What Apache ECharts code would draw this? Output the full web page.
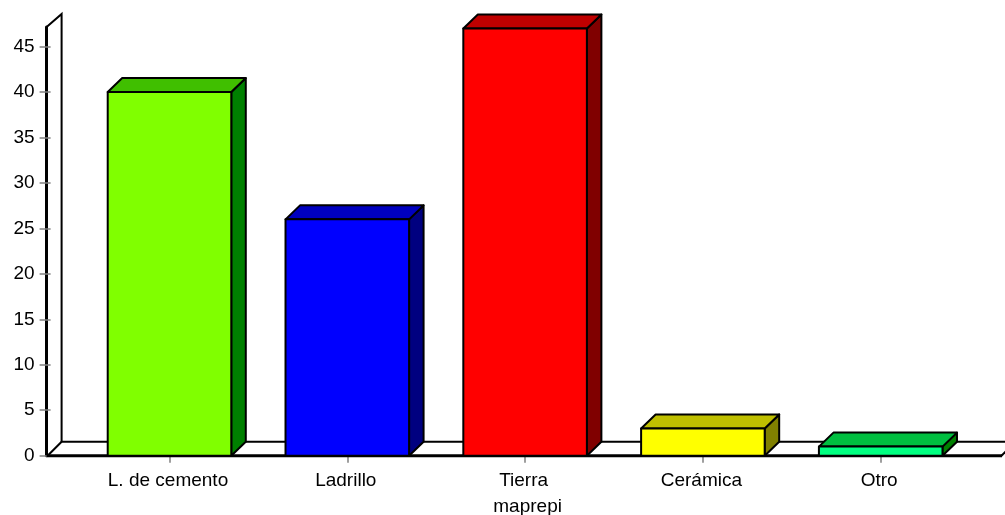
<!DOCTYPE html>
<html><head><meta charset="utf-8">
<script src="https://cdn.jsdelivr.net/npm/echarts@6/dist/echarts.min.js"></script>
<style>html,body{margin:0;padding:0;background:#fff}#c{width:1005px;height:515px}</style>
</head><body><div id="c"></div>
<script>
var categories = ['L. de cemento','Ladrillo','Tierra','Cerámica','Otro'];
var values = [40,26,47,3,1];
var frontColors = ['#80FF00','#0000FF','#FF0000','#FFFF00','#00FF80'];
var topColors = ['#40BF00','#0000BF','#BF0000','#BFBF00','#00BF40'];
var sideColors = ['#008000','#000080','#800000','#808000','#008000'];
var yTicks = [0,5,10,15,20,25,30,35,40,45];
var axisName = 'maprepi';
var DX = 14.5, DY = 14, FONT = 'Liberation Sans', FS = 19;

var chart = echarts.init(document.getElementById('c'), null, {renderer:'canvas'});

function renderBar(params, api){
  var i = api.value(0);
  var base = api.coord([i,0]);
  var top = api.coord([i,api.value(1)]);
  var w = api.size([1,0])[0]*0.695;
  var l = base[0]-w/2, r = base[0]+w/2, t = top[1], b = base[1];
  var line = {stroke:'#000',lineWidth:2,lineJoin:'round'};
  return {type:'group',children:[
    {type:'polygon',shape:{points:[[r,t],[r+DX,t-DY],[r+DX,b-DY],[r,b]]},style:Object.assign({fill:sideColors[i]},line)},
    {type:'polygon',shape:{points:[[l,t],[l+DX,t-DY],[r+DX,t-DY],[r,t]]},style:Object.assign({fill:topColors[i]},line)},
    {type:'rect',shape:{x:l,y:t,width:r-l,height:b-t},style:Object.assign({fill:frontColors[i]},line)}
  ]};
}
function renderWalls(params, api){
  var cs = params.coordSys;
  var b = api.coord([0,0])[1];
  var x0 = cs.x-34;
  var wy = cs.y;
  var thin = {stroke:'#000',lineWidth:2,fill:null};
  return {type:'group',children:[
    {type:'polyline',shape:{points:[[x0,wy],[x0+15,wy-13],[x0+15,b-14],[1006,b-14]]},style:thin},
    {type:'polyline',shape:{points:[[x0+1,b],[x0+15,b-14]]},style:thin},
    {type:'polyline',shape:{points:[[x0,b],[1002,b]]},style:{stroke:'#000',lineWidth:3,fill:null}},
    {type:'polyline',shape:{points:[[1001.5,b],[1006,b-4.5]]},style:thin}
  ]};
}

chart.setOption({
  animation:false,
  backgroundColor:'#fff',
  grid:{left:80.6,width:889,top:27,height:428.7,outerBoundsMode:'none',containLabel:false},
  xAxis:{type:'category',data:categories,
    axisLine:{show:false},
    axisTick:{show:true,alignWithLabel:true,length:7,lineStyle:{color:'#808080',width:1.5}},
    axisLabel:{color:'#000',fontFamily:FONT,fontSize:FS,margin:16,padding:[0,3,0,0],interval:0},
    name:axisName,nameLocation:'middle',nameGap:42,
    nameTextStyle:{color:'#000',fontFamily:FONT,fontSize:FS,padding:[0,0,0,5]},
    splitLine:{show:false}},
  yAxis:[{type:'value',min:0,max:47.16,interval:5,position:'left',offset:34,
    axisLine:{show:true,onZero:false,lineStyle:{color:'#000',width:3}},
    axisTick:{show:false},
    axisLabel:{color:'#000',fontFamily:FONT,fontSize:FS,margin:12,customValues:yTicks},
    splitLine:{show:false}},
   {type:'value',min:0,max:47.16,interval:5,position:'left',offset:30,
    axisLine:{show:false,onZero:false},
    axisTick:{show:true,length:11,lineStyle:{color:'#808080',width:1.5},customValues:yTicks},
    axisLabel:{show:false},splitLine:{show:false}}],
  series:[
    {type:'custom',coordinateSystem:'cartesian2d',z:1,clip:false,silent:true,renderItem:renderWalls,data:[[0,0]],encode:{x:0,y:1}},
    {type:'custom',coordinateSystem:'cartesian2d',z:2,clip:false,silent:true,renderItem:renderBar,
     data:values.map(function(v,i){return [i,v];}),encode:{x:0,y:1}}
  ]
});
</script></body></html>
